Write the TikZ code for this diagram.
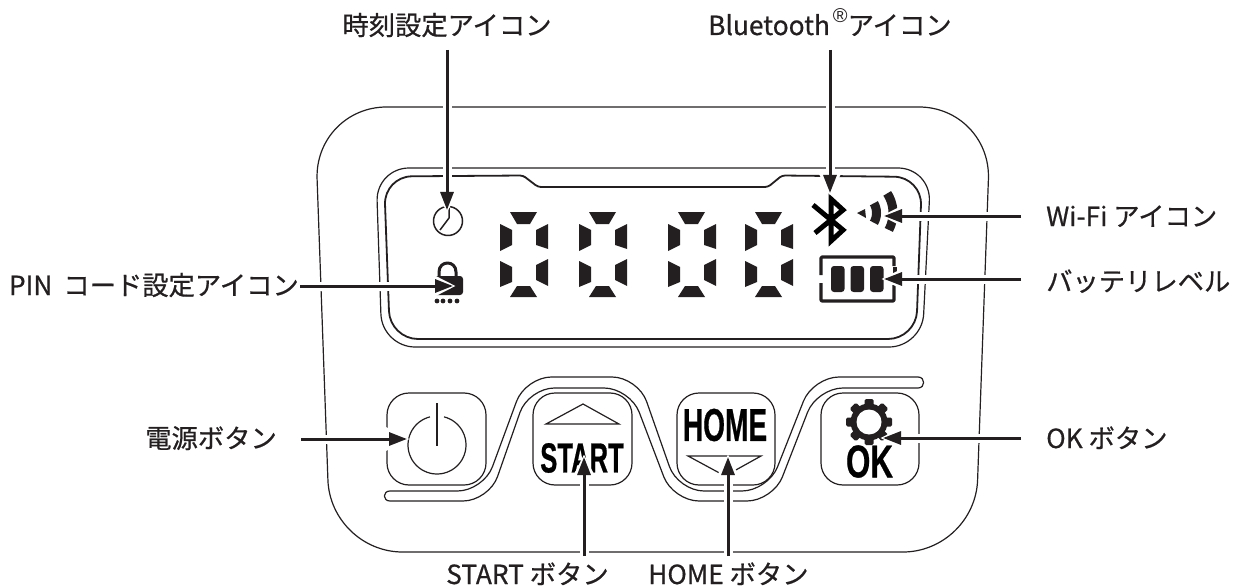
\documentclass[tikz,border=0pt]{standalone}
\usepackage{fontspec}
\usetikzlibrary{arrows.meta}
\setmainfont{Noto Sans CJK JP}[FakeBold=0.6]
\newfontfamily\btnfont{Liberation Sans}[BoldFont={Liberation Sans Bold},BoldFeatures={FakeBold=0.7}]
\newfontfamily\regfont{Liberation Sans}
\definecolor{ink}{HTML}{231F20}
\tikzset{
  ln/.style={draw=ink,line width=1.2pt},
  lnb/.style={draw=ink,line width=1.8pt},
  lbl/.style={font=\fontsize{26.3}{30}\selectfont,text=ink,inner sep=0pt},
  btntext/.style={font=\btnfont\bfseries\fontsize{#1}{#1}\selectfont,text=black,inner sep=0pt,transform shape},
  btnbox/.style={ln,rounded corners=22pt},
  halo/.style={draw=white,line width=9pt,shorten >=-3pt,-{Triangle[length=24pt,width=22pt,fill=white]}},
  arw/.style={draw=ink,line width=3pt,-{Triangle[length=18pt,width=13pt,fill=ink]}},
  seg/.style={fill=ink,draw=none}
}
\newcommand{\pointerline}[2]{\draw[halo] (#1) -- (#2); \draw[arw] (#1) -- (#2);}
\begin{document}
\begin{tikzpicture}[x=1pt,y=-1pt,line join=round]
\useasboundingbox (0,0) rectangle (1236,588);
% body
\draw[ln,rounded corners=72pt] (600,107) -- (991,107) -- (975,552) -- (330.5,552) -- (314.5,107) -- (600,107);
% display frames
\draw[ln,rounded corners=33pt] (600,168) -- (931,168) -- (922,347) -- (382,347) -- (376,168) -- (600,168);
\draw[lnb] (600,187) [rounded corners=3pt] -- (768,187) -- (782,175.5) [rounded corners=28pt] -- (922,177) -- (916,339) -- (390,339) -- (384,176.5) [rounded corners=3pt] -- (523,175.5) -- (538,187) -- (600,187);
% ribbon
\draw[ln] (390,491) [rounded corners=26pt] -- (483.5,491) -- (525.5,377) -- (638,377) -- (678,491) -- (768,491) -- (813,377) [sharp corners] -- (918,377)
  .. controls (925.5,377) and (925.5,388) .. (918,388) [rounded corners=26pt] -- (817,388) -- (773,501) -- (673,501) -- (630,388) -- (528.5,388) -- (489,501) [sharp corners] -- (390,501)
  .. controls (382.5,501) and (382.5,491) .. (390,491) -- cycle;
% buttons
\draw[btnbox] (387,393) rectangle (486,485);
\draw[btnbox] (533,393) rectangle (632,485);
\draw[btnbox] (677,393) rectangle (775,485);
\draw[btnbox] (821,393) rectangle (919,485);
% power icon
\draw[ln] plot[domain=-76:256,samples=60] ({437+29*cos(\x)},{445+29*sin(\x)});
\draw[ln] (437,403) -- (437,446);
% start icon
\draw[ln,line join=miter] (546,424) -- (583,404) -- (619,424) -- cycle;
\node[btntext=42,xscale=.61] (startword) at (582,458) {START};
% home icon
\node[btntext=46,xscale=.61] (homeword) at (725,425) {HOME};
\draw[ln,line join=miter] (688,456) -- (761,456) -- (725,476) -- cycle;
% ok icon
\node[btntext=46,xscale=.68] (okword) at (869.5,461.5) {OK};
\fill[ink] (869,422) circle (18.5);
\foreach \a in {0,45,...,315}
  \fill[ink,rotate around={\a:(869,422)},rounded corners=1.5pt] (864.5,399) rectangle (873.5,410);
\fill[white] (869,422) circle (12.5);
% digits
\foreach \dx in {0,79,168,245}{
  \begin{scope}[shift={(\dx,0)}]
    \fill[seg] (510,212) -- (537,212) -- (530,224) -- (517,224) -- cycle;
    \fill[seg] (500,224) -- (512,230) -- (512,245) -- (500,251) -- cycle;
    \fill[seg] (548,224) -- (536,230) -- (536,245) -- (548,249) -- cycle;
    \fill[seg] (500,261) -- (512,267) -- (512,282) -- (500,287) -- cycle;
    \fill[seg] (548,259) -- (536,265) -- (536,280) -- (548,286) -- cycle;
    \fill[seg] (517,286) -- (530,286) -- (537,297) -- (510,297) -- cycle;
  \end{scope}
}
% clock icon
\draw[draw=ink,line width=1.5pt] (448,221) circle (14.5);
\draw[draw=ink,line width=1.5pt] (440,230) -- (449,218) -- (449,208);
% lock icon
\fill[ink,rounded corners=3pt] (432,276) rectangle (463,295);
\draw[draw=ink,line width=3pt] (439,277) -- (439,272) .. controls (439,260) and (456,260) .. (456,272) -- (456,277);
\foreach \px in {437,443,450,457} \fill[ink] (\px,301) circle (2.4);
% bluetooth icon
\draw[draw=black,line width=5pt,line join=miter] (813,205) -- (843,230) -- (831,241) -- (831,199) -- (843,210) -- (815,233);
% wifi icon
\fill[ink] (857,213) -- (865,209) -- (866,218) -- cycle;
\draw[draw=ink,line width=9pt] plot[domain=-30:30,samples=15] ({857+19.5*cos(\x)},{213+19.5*sin(\x)});
\draw[draw=ink,line width=9pt] plot[domain=-33:28,samples=15] ({857+36*cos(\x)},{213+36*sin(\x)});
% battery icon
\draw[draw=ink,line width=3.2pt,rounded corners=1pt] (821,275) -- (821,257) -- (894,257) -- (894,266);
\draw[draw=ink,line width=3.2pt,rounded corners=1pt] (821,283) -- (821,301) -- (894,301) -- (894,285);
\fill[ink] (893,266.5) rectangle (897,277);
\foreach \cx in {831,850.5,870}
  \fill[ink,rounded corners=3pt] (\cx,266) rectangle (\cx+13.5,292);
% labels
\node[lbl,anchor=base] (lbtime) at (447,35) {時刻設定アイコン};
\node[lbl,anchor=base west] (lbblue) at (708,35) {Bluetooth\hspace{3pt}\raisebox{12pt}{\regfont\fontsize{20}{20}\selectfont ®}アイコン};
\node[lbl,anchor=base west] (lbwifi) at (1046,226) {Wi-Fi アイコン};
\node[lbl,anchor=base west] (lbbatt) at (1046,291) {バッテリレベル};
\node[lbl,anchor=base east] (lbpin) at (299,295) {PIN\hspace{.42em}コード設定アイコン};
\node[lbl,anchor=base east] (lbpower) at (277,448) {電源ボタン};
\node[lbl,anchor=base west] (lbok) at (1046,448) {OK ボタン};
\node[lbl,anchor=base west] (lbstart) at (446,584) {START ボタン};
\node[lbl,anchor=base west] (lbhome) at (648,584) {HOME ボタン};
% pointer ends
\coordinate (s1) at (447,50);   \coordinate (t1) at (447,210);
\coordinate (s2) at (830,50);   \coordinate (t2) at (830,193);
\coordinate (s3) at (1021,216); \coordinate (t3) at (884,216);
\coordinate (s4) at (1021,279); \coordinate (t4) at (884,279);
\coordinate (s5) at (300,286);  \coordinate (t5) at (453,286);
\coordinate (s6) at (301,439);  \coordinate (t6) at (407,439);
\coordinate (s7) at (1021,438); \coordinate (t7) at (883,438);
\coordinate (s8) at (584,556);  \coordinate (t8) at (584,457);
\coordinate (s9) at (728,556);  \coordinate (t9) at (728,457);
\foreach \i in {1,...,9}{\pointerline{s\i}{t\i}}
\end{tikzpicture}
\end{document}
